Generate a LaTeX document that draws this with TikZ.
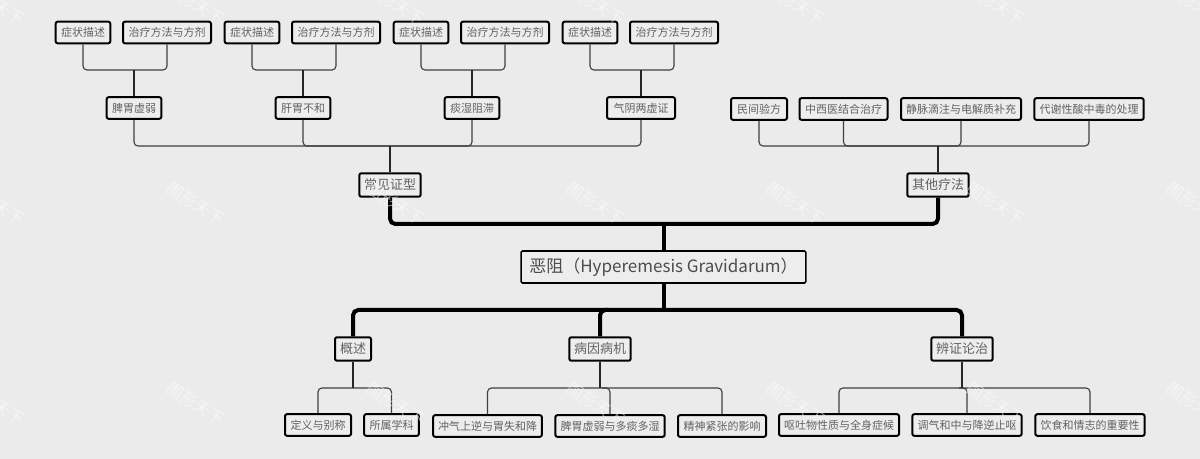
\documentclass[tikz,border=0pt]{standalone}
\usepackage{fontspec}
\setmainfont{Noto Sans CJK SC}
\definecolor{bgc}{HTML}{EBEBEB}
\definecolor{boxc}{HTML}{EDEDED}
\definecolor{txtc}{HTML}{626262}
\definecolor{linec}{HTML}{404040}
\tikzset{
  x=0.75pt,y=-0.75pt,
  boxbase/.style={draw=black,fill=boxc,rounded corners=1.5pt,inner sep=0pt,text=txtc,anchor=center},
  leaf/.style={boxbase,line width=1.5pt,font=\fontsize{8.25pt}{10pt}\selectfont,minimum height=16.2pt},
  branch/.style={boxbase,line width=1.5pt,font=\fontsize{9.75pt}{12pt}\selectfont,minimum height=17.6pt},
  rootbox/.style={boxbase,line width=1.2pt,font=\fontsize{12.75pt}{15pt}\selectfont,minimum height=24pt,text=black!70,rounded corners=1pt},
  thin link/.style={draw=linec,line width=0.85pt,rounded corners=3pt},
  mid link/.style={draw=black!85,line width=0.95pt},
  thick link/.style={draw=black,line width=3pt,rounded corners=4pt},
  thick stem/.style={draw=black,line width=3pt},
  mark text/.style={text=white,opacity=0.5,rotate=-33,font=\fontsize{12pt}{14pt}\selectfont},
}
\newcommand{\lnk}[4]{\draw[#1] (#2) -- (#2 |- #4) -- (#3 |- #4) -- (#3);}
\begin{document}
\begin{tikzpicture}
\useasboundingbox (0,0) rectangle (1200,459);
\fill[bgc] (0,0) rectangle (1200,459);

\coordinate (busT) at (0,224);
\coordinate (busB) at (0,310);
\coordinate (busA) at (0,146);
\coordinate (busC) at (0,70);
\coordinate (busD) at (0,388);

\node[rootbox,minimum width=213.5pt] (root) at (663.5,267) {恶阻（Hyperemesis Gravidarum）};

\node[branch,minimum width=46pt] (cj) at (390,185) {常见证型};
\node[branch,minimum width=46pt] (qt) at (938,185) {其他疗法};
\node[branch,minimum width=27pt] (gs) at (353,349) {概述};
\node[branch,minimum width=46pt] (by) at (600,349) {病因病机};
\node[branch,minimum width=46pt] (bz) at (962,349) {辨证论治};

\node[leaf,minimum width=41pt] (a1) at (134,108) {脾胃虚弱};
\node[leaf,minimum width=41pt] (a2) at (303,108) {肝胃不和};
\node[leaf,minimum width=41pt] (a3) at (472,108) {痰湿阻滞};
\node[leaf,minimum width=51pt] (a4) at (641,108) {气阴两虚证};

\node[leaf,minimum width=41pt] (s1) at (83,32.5) {症状描述};
\node[leaf,minimum width=66pt] (t1) at (167,32.5) {治疗方法与方剂};
\node[leaf,minimum width=41pt] (s2) at (252,32.5) {症状描述};
\node[leaf,minimum width=66pt] (t2) at (336,32.5) {治疗方法与方剂};
\node[leaf,minimum width=41pt] (s3) at (421,32.5) {症状描述};
\node[leaf,minimum width=66pt] (t3) at (505,32.5) {治疗方法与方剂};
\node[leaf,minimum width=41pt] (s4) at (590,32.5) {症状描述};
\node[leaf,minimum width=66pt] (t4) at (674,32.5) {治疗方法与方剂};

\node[leaf,minimum width=42pt] (q1) at (759,109) {民间验方};
\node[leaf,minimum width=66pt] (q2) at (843.5,109) {中西医结合治疗};
\node[leaf,minimum width=90pt] (q3) at (961,109) {静脉滴注与电解质补充};
\node[leaf,minimum width=82pt] (q4) at (1089,109) {代谢性酸中毒的处理};

\node[leaf,minimum width=49.5pt] (g1) at (318,425) {定义与别称};
\node[leaf,minimum width=41pt] (g2) at (391.5,425) {所属学科};
\node[leaf,minimum width=81.5pt] (b1) at (487.5,426) {冲气上逆与胃失和降};
\node[leaf,minimum width=82pt] (b2) at (610,426) {脾胃虚弱与多痰多湿};
\node[leaf,minimum width=66pt] (b3) at (722,426) {精神紧张的影响};
\node[leaf,minimum width=90pt] (z1) at (839,425) {呕吐物性质与全身症候};
\node[leaf,minimum width=82pt] (z2) at (967,425) {调气和中与降逆止呕};
\node[leaf,minimum width=82pt] (z3) at (1090,425) {饮食和情志的重要性};

\lnk{thin link}{s1.south}{t1.south}{busC}
\lnk{thin link}{s2.south}{t2.south}{busC}
\lnk{thin link}{s3.south}{t3.south}{busC}
\lnk{thin link}{s4.south}{t4.south}{busC}
\draw[mid link] (a1.north) -- (a1.north |- busC);
\draw[mid link] (a2.north) -- (a2.north |- busC);
\draw[mid link] (a3.north) -- (a3.north |- busC);
\draw[mid link] (a4.north) -- (a4.north |- busC);

\lnk{thin link}{a1.south}{a4.south}{busA}
\lnk{thin link}{a2.south}{a3.south}{busA}
\draw[mid link] (cj.north) -- (cj.north |- busA);

\lnk{thin link}{q1.south}{q4.south}{busA}
\lnk{thin link}{q2.south}{q3.south}{busA}
\draw[mid link] (qt.north) -- (qt.north |- busA);

\lnk{thin link}{g1.north}{g2.north}{busD}
\draw[mid link] (gs.south) -- (gs.south |- busD);
\lnk{thin link}{b1.north}{b3.north}{busD}
\draw[thin link] (b2.north) -- (b2.north |- busD) -- ([xshift=-6pt]b2.north |- busD);
\draw[mid link] (by.south) -- (by.south |- busD);
\lnk{thin link}{z1.north}{z3.north}{busD}
\draw[thin link] (z2.north) -- (z2.north |- busD) -- ([xshift=-6pt]z2.north |- busD);
\draw[mid link] (bz.south) -- (bz.south |- busD);

\lnk{thick link}{cj.south}{qt.south}{busT}
\draw[thick stem] (root.north) -- (root.north |- busT);
\lnk{thick link}{gs.north}{bz.north}{busB}
\draw[thick link] (by.north) -- (by.north |- busB) -- ([xshift=6pt]by.north |- busB);
\draw[thick stem] (root.south) -- (root.south |- busB);

\foreach \wx in {-4,196,396,596,796,996,1196}
  \foreach \wy in {4,204,404}
    \node[mark text] (wm\wx\wy) at (\wx,\wy) {图形天下};
\end{tikzpicture}
\end{document}
